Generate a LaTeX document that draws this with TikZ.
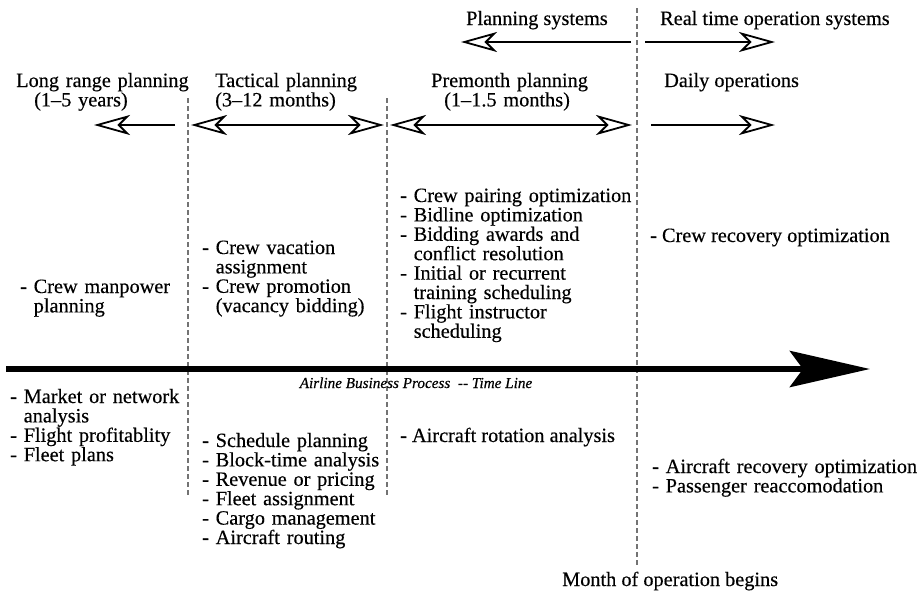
\documentclass[tikz,border=0pt]{standalone}
\usepackage{fontspec}
\setmainfont{Liberation Serif}[FakeBold=0.35]
\usetikzlibrary{arrows.meta}
\newcommand\ind{\hphantom{-\ }}
\begin{document}
\begin{tikzpicture}[x=1pt,y=-1pt,
  txt/.style={anchor=base west, inner sep=0pt, font=\fontsize{20.3}{19.4}\selectfont},
  lst/.style={txt, text width=300pt, align=left},
  sep/.style={draw=black!55, line width=1.6pt, dash pattern=on 4.5pt off 3.5pt},
  hollow/.tip={Stealth[open, length=36pt, width=20pt, inset=10pt, line width=1.8pt]},
  span/.style={line width=2pt},
  timeline/.style={line width=6.5pt, -{Stealth[length=80pt, width=36pt, inset=13pt]}}
]
\useasboundingbox (0,0) rectangle (917,597);

% phase separators
\coordinate (d1t) at (188,98);  \coordinate (d1b) at (188,496);
\coordinate (d2t) at (387,98);  \coordinate (d2b) at (387,496);
\coordinate (d3t) at (637,8);   \coordinate (d3b) at (637,568);
\draw[sep] (d1t) -- (d1b);
\draw[sep] (d2t) -- (d2b);
\draw[sep] (d3t) -- (d3b);

% system headings
\node[txt] (plan) at (466,25) {Planning systems};
\node[txt] (real) at (660,25) {Real time operation systems};
\coordinate (pl-a) at (631,42); \coordinate (pl-b) at (461,42);
\coordinate (rt-a) at (645,42); \coordinate (rt-b) at (775,42);
\draw[span, -hollow] (pl-a) -- (pl-b);
\draw[span, -hollow] (rt-a) -- (rt-b);

% phase headings
\node[lst] (lr)    at (16,87)  {Long range planning\\\hspace*{18pt}(1–5 years)};
\node[lst] (tac)   at (215,87) {Tactical planning\\(3–12 months)};
\node[lst] (pre)   at (431,87) {Premonth planning\\\hspace*{13pt}(1–1.5 months)};
\node[txt] (daily) at (664,87) {Daily operations};

% phase spans
\coordinate (lr-a)  at (175,125); \coordinate (lr-b)  at (94,125);
\coordinate (tac-a) at (191,125); \coordinate (tac-b) at (384,125);
\coordinate (pre-a) at (390,125); \coordinate (pre-b) at (632,125);
\coordinate (dy-a)  at (651,125); \coordinate (dy-b)  at (775,125);
\draw[span, -hollow] (lr-a) -- (lr-b);
\draw[span, hollow-hollow] (tac-a) -- (tac-b);
\draw[span, hollow-hollow] (pre-a) -- (pre-b);
\draw[span, -hollow] (dy-a) -- (dy-b);

% crew processes
\node[lst] (crew1) at (20,293)  {- Crew manpower\\\ind planning};
\node[lst] (crew2) at (202,254) {- Crew vacation\\\ind assignment\\- Crew promotion\\\ind (vacancy bidding)};
\node[lst] (crew3) at (400,202) {- Crew pairing optimization\\- Bidline optimization\\- Bidding awards and\\\ind conflict resolution\\- Initial or recurrent\\\ind training scheduling\\- Flight instructor\\\ind scheduling};
\node[txt] (crew4) at (650,242) {- Crew recovery optimization};

% time line
\coordinate (tl-a) at (6,369); \coordinate (tl-b) at (870,369);
\draw[timeline] (tl-a) -- (tl-b);
\node[anchor=base, inner sep=0pt, font=\fontsize{15.2}{17}\selectfont\itshape] (tlabel) at (416,388)
  {Airline Business Process\ \ -{}- Time Line};

% aircraft and network processes
\node[lst] (air1) at (10,403)  {- Market or network\\\ind analysis\\- Flight profitablity\\- Fleet plans};
\node[lst] (air2) at (202,447) {- Schedule planning\\- Block-time analysis\\- Revenue or pricing\\- Fleet assignment\\- Cargo management\\- Aircraft routing};
\node[txt] (air3) at (400,442) {- Aircraft rotation analysis};
\node[lst] (air4) at (652,473) {- Aircraft recovery optimization\\- Passenger reaccomodation};

\node[txt] (month) at (562,586) {Month of operation begins};
\end{tikzpicture}
\end{document}
